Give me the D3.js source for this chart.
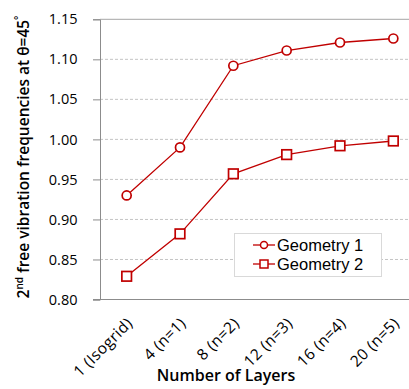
<!DOCTYPE html>
<html>
<head>
<meta charset="utf-8">
<script src="https://cdn.jsdelivr.net/npm/d3@7/dist/d3.min.js"></script>
<style>
  html, body { margin: 0; padding: 0; background: #fff; }
  svg { display: block; }
</style>
</head>
<body>
<svg id="chart" width="409" height="389"></svg>
<script>
// Layer configurations along the x axis
const categories = ["1 (Isogrid)", "4 (n=1)", "8 (n=2)", "12 (n=3)", "16 (n=4)", "20 (n=5)"];
// Normalised 2nd free vibration frequency for each geometry
const geometry1 = [0.930, 0.990, 1.092, 1.111, 1.121, 1.126];
const geometry2 = [0.829, 0.882, 0.957, 0.981, 0.992, 0.998];
const seriesNames = ["Geometry 1", "Geometry 2"];
const yTicks = [0.80, 0.85, 0.90, 0.95, 1.00, 1.05, 1.10, 1.15];

const red = "#C00000";
const svg = d3.select("#chart");

const plotLeft = 100, plotRight = 420, plotTop = 19.3, plotBottom = 299.5;

const x = d3.scalePoint().domain(categories).range([plotLeft, plotRight]).padding(0.5);
const y = d3.scaleLinear().domain([0.80, 1.15]).range([plotBottom, plotTop]);

// Horizontal grid lines
svg.append("g")
  .selectAll("line")
  .data(yTicks.filter(t => t > 0.80))
  .join("line")
  .attr("x1", plotLeft).attr("x2", 409)
  .attr("y1", d => y(d)).attr("y2", d => y(d))
  .attr("stroke", d => d === 1.15 ? "#a6a6a6" : "#c4c4c4")
  .attr("stroke-width", 1)
  .attr("stroke-dasharray", d => d === 1.15 ? null : "3,2");

// Y axis
const yAxis = svg.append("g")
  .attr("transform", `translate(${plotLeft},0)`)
  .call(d3.axisLeft(y).tickValues(yTicks).tickFormat(d3.format(".2f")).tickSize(7).tickPadding(15.5));
yAxis.select(".domain").attr("stroke", "#8c8c8c");
yAxis.selectAll(".tick line").attr("stroke", "#8c8c8c");
yAxis.selectAll("text")
  .attr("font-family", "'Open Sans', sans-serif")
  .attr("font-size", 14.5)
  .attr("fill", "#000");

// X axis line
svg.append("line")
  .attr("x1", 93).attr("x2", 409)
  .attr("y1", plotBottom).attr("y2", plotBottom)
  .attr("stroke", "#8c8c8c").attr("stroke-width", 1);

// Rotated category labels
svg.append("g")
  .selectAll("text")
  .data(categories)
  .join("text")
  .attr("transform", d => `translate(${x(d) + 3},${plotBottom + 21}) rotate(-45)`)
  .attr("text-anchor", "end")
  .attr("dy", "0.35em")
  .attr("font-family", "'Open Sans', sans-serif")
  .attr("font-size", 15.5)
  .attr("letter-spacing", 0.4)
  .attr("fill", "#000")
  .text(d => d);

// Axis titles
svg.append("text")
  .attr("x", 226).attr("y", 381)
  .attr("text-anchor", "middle")
  .attr("font-family", "'Open Sans', sans-serif")
  .attr("font-weight", 600)
  .attr("font-size", 16)
  .text("Number of Layers");

const yTitle = svg.append("text")
  .attr("transform", "translate(29,157) rotate(-90)")
  .attr("text-anchor", "middle")
  .attr("font-family", "'Open Sans', sans-serif")
  .attr("font-weight", 600)
  .attr("font-size", 15.5);
yTitle.append("tspan").text("2");
yTitle.append("tspan").attr("font-size", 10).attr("dy", -6).text("nd");
yTitle.append("tspan").attr("dy", 6).text(" free vibration frequencies at θ=45");
yTitle.append("tspan").attr("font-size", 10).attr("dy", -7).text("°");

// Series lines and markers
const line = d3.line().x((d, i) => x(categories[i])).y(d => y(d));
const series = [
  { name: seriesNames[0], values: geometry1, shape: "circle" },
  { name: seriesNames[1], values: geometry2, shape: "square" }
];

function drawMarker(g, shape, cx, cy) {
  if (shape === "circle") {
    g.append("circle").attr("cx", cx).attr("cy", cy).attr("r", 4.5)
      .attr("fill", "#fff").attr("stroke", red).attr("stroke-width", 1.7);
  } else {
    g.append("rect").attr("x", cx - 4.8).attr("y", cy - 4.8).attr("width", 9.6).attr("height", 9.6)
      .attr("fill", "#fff").attr("stroke", red).attr("stroke-width", 1.7);
  }
}

series.forEach(s => {
  svg.append("path")
    .attr("d", line(s.values))
    .attr("fill", "none")
    .attr("stroke", red)
    .attr("stroke-width", 1.3);
  const g = svg.append("g");
  s.values.forEach((v, i) => drawMarker(g, s.shape, x(categories[i]), y(v)));
});

// Legend
const legend = svg.append("g");
legend.append("rect")
  .attr("x", 234.5).attr("y", 233.5).attr("width", 147).attr("height", 43)
  .attr("fill", "#fff").attr("stroke", "#d9d9d9").attr("stroke-width", 1);
series.forEach((s, i) => {
  const cy = 245 + i * 19;
  const lg = legend.append("g");
  lg.append("line").attr("x1", 253).attr("x2", 275).attr("y1", cy).attr("y2", cy)
    .attr("stroke", red).attr("stroke-width", 1.3);
  if (s.shape === "circle") {
    lg.append("circle").attr("cx", 264).attr("cy", cy).attr("r", 3.5)
      .attr("fill", "#fff").attr("stroke", red).attr("stroke-width", 1.5);
  } else {
    lg.append("rect").attr("x", 260).attr("y", cy - 4).attr("width", 8).attr("height", 8)
      .attr("fill", "#fff").attr("stroke", red).attr("stroke-width", 1.5);
  }
  lg.append("text").attr("x", 277).attr("y", cy).attr("dy", "0.36em")
    .attr("font-family", "'Liberation Sans', Arial, sans-serif")
    .attr("font-size", 16.5)
    .attr("fill", "#000")
    .text(s.name);
});
</script>
</body>
</html>
